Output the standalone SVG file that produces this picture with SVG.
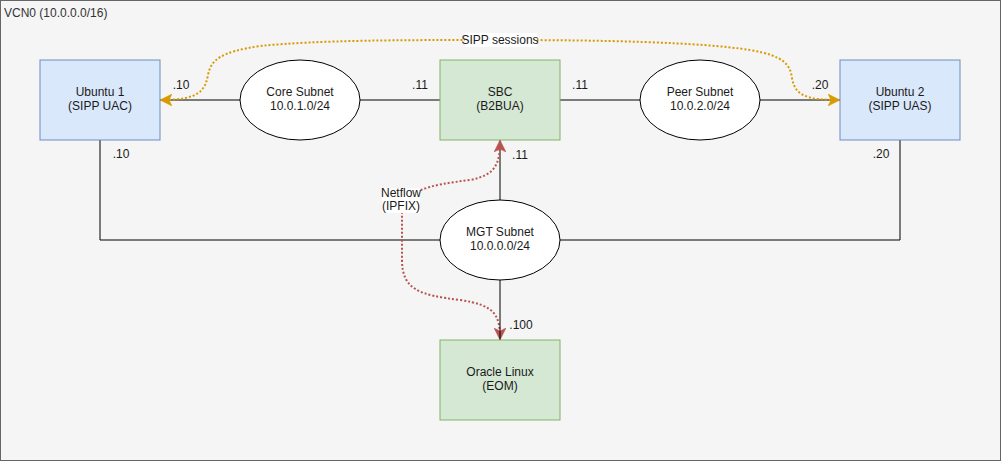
<svg xmlns="http://www.w3.org/2000/svg" width="1001" height="461" viewBox="0 0 1001 461">
  <style>
    text { font-family: "Liberation Sans", Arial, sans-serif; font-size: 12px; fill: #1a1a1a; }
    .c { text-anchor: middle; }
    .blue { fill: #dae8fc; stroke: #6c8ebf; stroke-width: 1; }
    .green { fill: #d5e8d4; stroke: #82b366; stroke-width: 1; }
    .ell { fill: #ffffff; stroke: #000000; stroke-width: 1; }
    .wire { fill: none; stroke: #000000; stroke-width: 1; }
    .sipp { fill: none; stroke: #d79b00; stroke-width: 2; stroke-dasharray: 2 2; }
    .net { fill: none; stroke: #b85450; stroke-width: 2; stroke-dasharray: 2 2; }
  </style>
  <defs>
    <marker id="arrOrange" viewBox="0 0 12 12" refX="11" refY="6" markerWidth="12" markerHeight="12" markerUnits="userSpaceOnUse" orient="auto-start-reverse">
      <path d="M0,0 L12,6 L0,12 L3,6 Z" fill="#d79b00" stroke="#d79b00" stroke-width="0.5"/>
    </marker>
    <marker id="arrRed" viewBox="0 0 12 12" refX="11" refY="6" markerWidth="12" markerHeight="12" markerUnits="userSpaceOnUse" orient="auto-start-reverse">
      <path d="M0,0 L12,6 L0,12 L3,6 Z" fill="#b85450" stroke="#b85450" stroke-width="0.5"/>
    </marker>
  </defs>

  <g id="vcn0">
    <rect x="0.5" y="0.5" width="1000" height="460" fill="#f5f5f5" stroke="#666666" stroke-width="1"/>
    <text x="4" y="17" style="fill:#333333">VCN0 (10.0.0.0/16)</text>
  </g>

  <g id="connectors">
    <path class="wire" d="M240,100 L160,100"/>
    <path class="wire" d="M360,100 L440,100"/>
    <path class="wire" d="M560,100 L640,100"/>
    <path class="wire" d="M760,100 L840,100"/>
    <path class="wire" d="M100,140 L100,240 L440,240"/>
    <path class="wire" d="M560,240 L900,240 L900,140"/>
    <path class="wire" d="M500,200 L500,140"/>
    <path class="sipp" marker-start="url(#arrOrange)" marker-end="url(#arrOrange)" d="M161,100 C200,100 205,90 208,75 C211,60 220,52 260,46 C320,40 400,40 500,40 C600,40 700,42 750,50 C785,56 790,65 792,78 C795,95 805,100 839,100"/>
    <path class="net" marker-start="url(#arrRed)" marker-end="url(#arrRed)" d="M500,141 C500,165 495,175 470,180 C430,185 402,190 402,215 L402,260 C402,290 420,295 460,300 C495,305 500,315 500,339"/>
    <path class="wire" d="M500,280 L500,340"/>
    <rect x="465" y="33" width="72" height="14" fill="#ffffff"/>
    <text class="c" x="500" y="44">SIPP sessions</text>
    <rect x="382" y="188" width="38" height="25" fill="#ffffff"/>
    <text class="c" x="401" y="197">Netflow</text>
    <text class="c" x="401" y="210">(IPFIX)</text>
    <text class="c" x="181" y="89">.10</text>
    <text class="c" x="420" y="89">.11</text>
    <text class="c" x="580" y="89">.11</text>
    <text class="c" x="820" y="89">.20</text>
    <text class="c" x="121" y="158">.10</text>
    <text class="c" x="881" y="158">.20</text>
    <text class="c" x="520" y="159">.11</text>
    <text class="c" x="521" y="329">.100</text>
  </g>

  <g id="ubuntu1">
    <rect class="blue" x="40" y="60" width="120" height="80"/>
    <text class="c" x="100" y="96">Ubuntu 1</text>
    <text class="c" x="100" y="110">(SIPP UAC)</text>
  </g>
  <g id="core-subnet">
    <ellipse class="ell" cx="300" cy="100" rx="60" ry="40"/>
    <text class="c" x="300" y="96">Core Subnet</text>
    <text class="c" x="300" y="110">10.0.1.0/24</text>
  </g>
  <g id="sbc">
    <rect class="green" x="440" y="60" width="120" height="80"/>
    <text class="c" x="500" y="96">SBC</text>
    <text class="c" x="500" y="110">(B2BUA)</text>
  </g>
  <g id="peer-subnet">
    <ellipse class="ell" cx="700" cy="100" rx="60" ry="40"/>
    <text class="c" x="700" y="96">Peer Subnet</text>
    <text class="c" x="700" y="110">10.0.2.0/24</text>
  </g>
  <g id="ubuntu2">
    <rect class="blue" x="840" y="60" width="120" height="80"/>
    <text class="c" x="900" y="96">Ubuntu 2</text>
    <text class="c" x="900" y="110">(SIPP UAS)</text>
  </g>
  <g id="mgt-subnet">
    <ellipse class="ell" cx="500" cy="240" rx="60" ry="40"/>
    <text class="c" x="500" y="236">MGT Subnet</text>
    <text class="c" x="500" y="250">10.0.0.0/24</text>
  </g>
  <g id="oracle-linux">
    <rect class="green" x="440" y="340" width="120" height="80"/>
    <text class="c" x="500" y="376">Oracle Linux</text>
    <text class="c" x="500" y="390">(EOM)</text>
  </g>
</svg>
